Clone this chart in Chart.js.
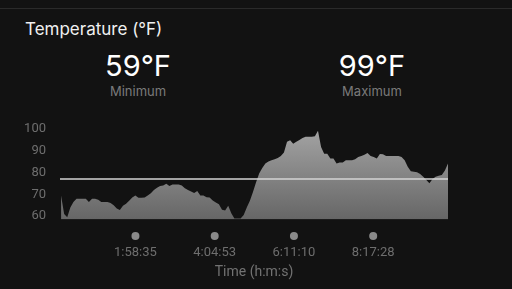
<!DOCTYPE html>
<html>
<head>
<meta charset="utf-8">
<script src="https://cdn.jsdelivr.net/npm/chart.js@4"></script>
<style>
  html, body { margin:0; padding:0; background:#121212; width:512px; height:289px; overflow:hidden; }
  #wrap { position:relative; width:512px; height:289px; font-family: Inter, Roboto, "Noto Sans", sans-serif; }
  #sep { position:absolute; left:0; top:8px; width:512px; height:1px; background:#2a2a2a; }
  #title { position:absolute; left:25px; top:19px; font-size:17px; color:#f0f0f0; white-space:nowrap; }
  .stat { position:absolute; width:140px; text-align:center; }
  .stat .v { font-size:29px; color:#ffffff; line-height:34px; }
  .stat .l { font-size:13px; color:#7a7a7a; line-height:16px; }
  canvas { position:absolute; left:0; top:0; }
</style>
</head>
<body>
<div id="wrap">
  <div id="sep"></div>
  <div id="title">Temperature (°F)</div>
  <div class="stat" style="left:68px;top:49px;"><div class="v" id="minV"></div><div class="l">Minimum</div></div>
  <div class="stat" style="left:302px;top:49px;"><div class="v" id="maxV"></div><div class="l">Maximum</div></div>
  <canvas id="c" width="512" height="289"></canvas>
</div>
<script>
// ---- data ----
const sampleIntervalSec = 296;
const temps = [
  69.5, 61, 59.5, 64, 66.5, 68, 68, 68, 68, 66.5,
  68, 68, 67.5, 66.5, 66.5, 66.5, 66, 65, 63.5, 62.8,
  64.8, 65.7, 67, 68.5, 69.5, 68.4, 68.4, 68.5, 69.5, 70.5,
  72, 73, 73.8, 74, 74.8, 73.8, 74.5, 74.5, 74.5, 74,
  72.8, 72, 71.3, 70.6, 71.5, 69.5, 69.5, 68.7, 68.5, 67.2,
  66.3, 65.5, 63, 62.6, 64.8, 61.3, 59, 59, 59, 60.5,
  64, 67, 71, 75.5, 79.5, 82, 84, 85, 85.5, 86,
  86.5, 87.5, 89, 94, 94.6, 93.1, 94, 94.8, 95.7, 96.2,
  96.2, 96.2, 96.5, 99, 91.6, 88.5, 88.5, 86.3, 86.3, 84,
  84.5, 84.5, 85.5, 85.5, 85.5, 86, 87, 87.5, 88, 88.8,
  87.5, 87, 86.3, 88.4, 88.2, 87.5, 87.5, 87.5, 87.5, 87.5,
  87, 85.5, 82.5, 80.5, 80.3, 80, 79.3, 78, 76.5, 75,
  77, 78, 78.5, 78.8, 80.8, 84
];
const averageTemp = 77;
const yTicks = [60, 70, 80, 90, 100];
const xTickLabels = ['1:58:35', '4:04:53', '6:11:10', '8:17:28'];

// ---- derived ----
const times = temps.map((_, i) => i * sampleIntervalSec);
const toSec = s => s.split(':').map(Number).reduce((a, b) => a * 60 + b, 0);
const xTickValues = xTickLabels.map(toSec);
const fmt = sec => {
  const h = Math.floor(sec / 3600), m = Math.floor((sec % 3600) / 60), s = Math.round(sec % 60);
  return h + ':' + String(m).padStart(2, '0') + ':' + String(s).padStart(2, '0');
};
document.getElementById('minV').textContent = Math.min(...temps) + '°F';
document.getElementById('maxV').textContent = Math.max(...temps) + '°F';

const xMin = -100, xMax = times[times.length - 1];

const dotPlugin = {
  id: 'tickDots',
  afterDraw(chart) {
    const ctx = chart.ctx, xs = chart.scales.x, area = chart.chartArea;
    ctx.save();
    ctx.fillStyle = '#8a8a8a';
    xs.ticks.forEach(t => {
      ctx.beginPath();
      ctx.arc(xs.getPixelForValue(t.value), area.bottom + 16.5, 4, 0, Math.PI * 2);
      ctx.fill();
    });
    ctx.restore();
  }
};

const ctx = document.getElementById('c').getContext('2d');
new Chart(ctx, {
  type: 'line',
  data: {
    datasets: [
      {
        label: 'Average',
        data: [{ x: xMin, y: averageTemp }, { x: xMax, y: averageTemp }],
        borderColor: '#d4d4d4',
        borderWidth: 1.5,
        pointRadius: 0,
        fill: false
      },
      {
        label: 'Temperature',
        data: times.map((t, i) => ({ x: t, y: temps[i] })),
        borderWidth: 0,
        borderColor: 'rgba(0,0,0,0)',
        pointRadius: 0,
        tension: 0,
        fill: 'start',
        backgroundColor: (c) => {
          const a = c.chart.chartArea;
          if (!a) return '#888';
          const g = c.chart.ctx.createLinearGradient(0, a.top, 0, a.bottom);
          g.addColorStop(0, '#a4a4a4');
          g.addColorStop(1, '#666666');
          return g;
        }
      }
    ]
  },
  options: {
    responsive: false,
    animation: false,
    events: [],
    layout: { padding: { top: 128.5, right: 64, left: 0, bottom: 0 } },
    plugins: { legend: { display: false }, tooltip: { enabled: false } },
    scales: {
      x: {
        type: 'linear',
        min: xMin,
        max: xMax,
        grid: { display: false, drawTicks: false },
        border: { display: false },
        afterBuildTicks: s => { s.ticks = xTickValues.map(v => ({ value: v })); },
        afterFit: s => { s.height = 69.5; },
        ticks: {
          color: '#6e6e6e',
          font: { family: 'Roboto', size: 13 },
          padding: 25,
          maxRotation: 0,
          autoSkip: false,
          callback: v => fmt(v)
        },
        title: {
          display: true,
          text: 'Time (h:m:s)',
          color: '#727272',
          font: { family: 'Roboto', size: 14 },
          padding: { top: 0, bottom: 8.6 }
        }
      },
      y: {
        min: 58.5,
        max: 100,
        grid: { display: false, drawTicks: false },
        border: { display: false },
        afterBuildTicks: s => { s.ticks = yTicks.map(v => ({ value: v })); },
        afterFit: s => { s.width = 60; },
        ticks: {
          color: '#6e6e6e',
          font: { family: 'Roboto', size: 13 },
          padding: 14
        }
      }
    }
  },
  plugins: [dotPlugin]
});
</script>
</body>
</html>
